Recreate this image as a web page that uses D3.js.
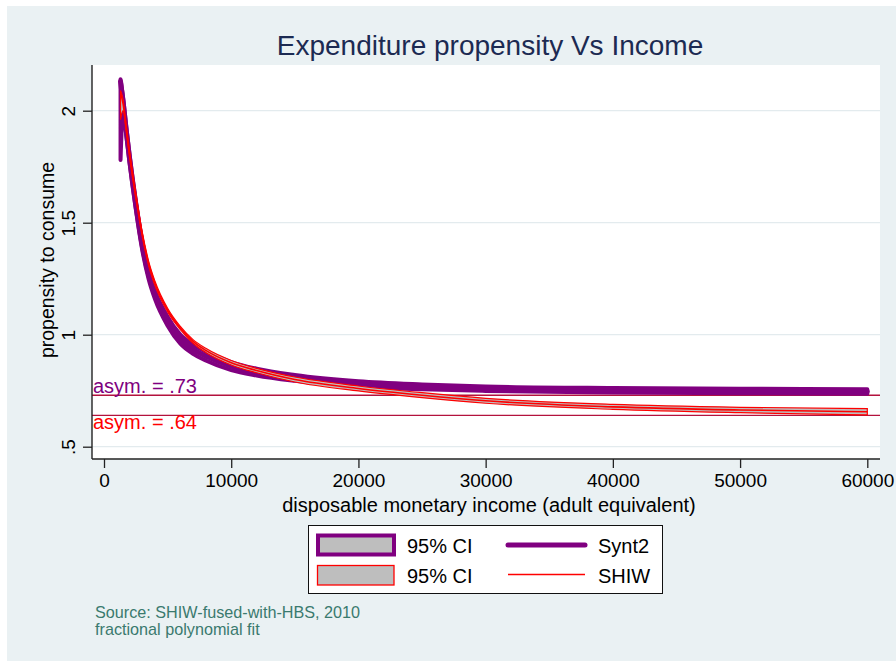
<!DOCTYPE html>
<html>
<head>
<meta charset="utf-8">
<script src="https://cdn.jsdelivr.net/npm/d3@7/dist/d3.min.js"></script>
<style>
  html, body { margin: 0; padding: 0; background: #ffffff; }
  svg { display: block; font-family: 'Liberation Sans', Arial, sans-serif; }
</style>
</head>
<body>
<svg id="chart" width="896" height="661"></svg>
<script>
// income grid the fitted curves were read at
const incomes = [1300, 1500, 1750, 2000, 2500, 3000, 3500, 4000, 5000, 6000, 7000, 8000, 10000, 12000, 15000, 20000, 25000, 30000, 40000, 50000, 60000];

// Synt2 fractional polynomial fit and its 95% CI
const synt2Fit = [2.13, 2.04, 1.91, 1.79, 1.58, 1.40, 1.27, 1.18, 1.06, 0.98, 0.935, 0.905, 0.86, 0.833, 0.807, 0.78, 0.767, 0.759, 0.752, 0.749, 0.746];
const synt2Hi  = [2.14, 2.06, 1.93, 1.81, 1.60, 1.42, 1.29, 1.20, 1.08, 1.00, 0.955, 0.925, 0.878, 0.848, 0.82, 0.792, 0.778, 0.769, 0.762, 0.759, 0.756];
const synt2Lo  = [1.78, 2.00, 1.89, 1.77, 1.56, 1.38, 1.25, 1.16, 1.04, 0.96, 0.915, 0.885, 0.842, 0.818, 0.794, 0.768, 0.756, 0.749, 0.742, 0.739, 0.736];

// SHIW fractional polynomial fit and its 95% CI
const shiwFit = [2.08, 2.03, 1.92, 1.81, 1.62, 1.45, 1.32, 1.23, 1.11, 1.03, 0.97, 0.93, 0.875, 0.84, 0.80, 0.76, 0.73, 0.705, 0.678, 0.664, 0.656];
const shiwHi  = [2.09, 2.05, 1.935, 1.825, 1.632, 1.46, 1.33, 1.24, 1.118, 1.037, 0.978, 0.939, 0.885, 0.85, 0.811, 0.771, 0.741, 0.716, 0.689, 0.676, 0.670];
const shiwLo  = [1.96, 2.00, 1.905, 1.795, 1.608, 1.44, 1.31, 1.22, 1.102, 1.023, 0.962, 0.921, 0.865, 0.83, 0.789, 0.749, 0.719, 0.694, 0.667, 0.652, 0.642];

// asymptotes
const asymValues = [0.73, 0.64];
const asymLabels = ['asym. = .73', 'asym. = .64'];

// axis ticks
const xTicks = [0, 10000, 20000, 30000, 40000, 50000, 60000];
const yTicks = [0.5, 1, 1.5, 2];
const yTickLabels = ['.5', '1', '1.5', '2'];

const PURPLE = '#800080';
const RED = '#ff0000';
const ASYM_COLOR = '#b3123d';
const CI_FILL = '#bebebe';
const GRID = '#e3ebee';
const BG = '#eaf1f3';
const FONT = "'Liberation Sans', Arial, sans-serif";

const svg = d3.select('#chart');

// graph region
svg.append('rect').attr('x', 7).attr('y', 6).attr('width', 889).attr('height', 655).attr('fill', BG);

// plot region
const plot = { left: 92, right: 880, top: 65, bottom: 459 };
svg.append('rect')
  .attr('x', plot.left).attr('y', plot.top)
  .attr('width', plot.right - plot.left).attr('height', plot.bottom - plot.top)
  .attr('fill', '#ffffff');

const x = d3.scaleLinear().domain([0, 60000]).range([104, 867.3]);
const y = d3.scaleLinear().domain([0.5, 2]).range([446.7, 110.7]);

// gridlines
svg.append('g')
  .selectAll('line')
  .data(yTicks)
  .enter()
  .append('line')
  .attr('x1', plot.left).attr('x2', plot.right)
  .attr('y1', d => y(d)).attr('y2', d => y(d))
  .attr('stroke', GRID).attr('stroke-width', 1.3);

// asymptote lines
svg.append('g')
  .selectAll('line')
  .data(asymValues)
  .enter()
  .append('line')
  .attr('x1', plot.left).attr('x2', plot.right)
  .attr('y1', d => y(d)).attr('y2', d => y(d))
  .attr('stroke', ASYM_COLOR).attr('stroke-width', 1.4);

const rows = (fit, lo, hi) => incomes.map((inc, i) => ({ inc, fit: fit[i], lo: lo[i], hi: hi[i] }));
const synt2 = rows(synt2Fit, synt2Lo, synt2Hi);
const shiw = rows(shiwFit, shiwLo, shiwHi);

const band = d3.area()
  .x(d => x(d.inc))
  .y0(d => y(d.lo))
  .y1(d => y(d.hi))
  .curve(d3.curveMonotoneX);

const fitLine = d3.line()
  .x(d => x(d.inc))
  .y(d => y(d.fit))
  .curve(d3.curveMonotoneX);

// Synt2 CI band + fit
svg.append('path').datum(synt2)
  .attr('d', band)
  .attr('fill', CI_FILL).attr('stroke', PURPLE).attr('stroke-width', 4)
  .attr('stroke-linejoin', 'round');
svg.append('path').datum(synt2)
  .attr('d', fitLine)
  .attr('fill', 'none').attr('stroke', PURPLE).attr('stroke-width', 5)
  .attr('stroke-linecap', 'round');

// SHIW CI band + fit
svg.append('path').datum(shiw)
  .attr('d', band)
  .attr('fill', CI_FILL).attr('stroke', RED).attr('stroke-width', 1.2);
svg.append('path').datum(shiw)
  .attr('d', fitLine)
  .attr('fill', 'none').attr('stroke', RED).attr('stroke-width', 1.6);

// asymptote labels
svg.append('text')
  .attr('x', 93).attr('y', 393)
  .attr('font-size', 20).attr('fill', PURPLE)
  .text(asymLabels[0]);
svg.append('text')
  .attr('x', 93).attr('y', 429)
  .attr('font-size', 20).attr('fill', RED)
  .text(asymLabels[1]);

// axes
const xAxis = d3.axisBottom(x).tickValues(xTicks).tickSize(9).tickPadding(6).tickFormat(d3.format('d'));
const gx = svg.append('g').attr('transform', `translate(0,${plot.bottom})`).call(xAxis);
gx.select('.domain').attr('d', `M${plot.left},0H${plot.right}`);

const yAxis = d3.axisLeft(y).tickValues(yTicks).tickSize(9).tickFormat((d, i) => yTickLabels[i]);
const gy = svg.append('g').attr('transform', `translate(${plot.left},0)`).call(yAxis);
gy.select('.domain').attr('d', `M0,${plot.top}V${plot.bottom}`);

[gx, gy].forEach(g => {
  g.selectAll('.domain').attr('stroke', '#222').attr('stroke-width', 1.4);
  g.selectAll('.tick line').attr('stroke', '#222').attr('stroke-width', 1.3);
  g.selectAll('text').attr('font-size', 19).attr('fill', '#000').attr('font-family', FONT);
});

// rotate y tick labels like stata does
gy.selectAll('.tick text')
  .attr('x', null).attr('dy', null)
  .attr('text-anchor', 'middle')
  .attr('transform', 'translate(-17,0) rotate(-90)');

// axis titles
svg.append('text')
  .attr('x', 489).attr('y', 512)
  .attr('text-anchor', 'middle').attr('font-size', 20)
  .text('disposable monetary income (adult equivalent)');
svg.append('text')
  .attr('transform', 'translate(54,260) rotate(-90)')
  .attr('text-anchor', 'middle').attr('font-size', 19.5)
  .text('propensity to consume');

// title
svg.append('text')
  .attr('x', 490).attr('y', 55)
  .attr('text-anchor', 'middle').attr('font-size', 28).attr('fill', '#1c2a52')
  .text('Expenditure propensity Vs Income');

// legend
const legend = svg.append('g');
legend.append('rect')
  .attr('x', 308.5).attr('y', 525.5).attr('width', 354).attr('height', 68)
  .attr('fill', '#ffffff').attr('stroke', '#111').attr('stroke-width', 1);
legend.append('rect')
  .attr('x', 318).attr('y', 535.5).attr('width', 76).attr('height', 19)
  .attr('fill', CI_FILL).attr('stroke', PURPLE).attr('stroke-width', 4);
legend.append('rect')
  .attr('x', 317.5).attr('y', 565.5).attr('width', 76.5).attr('height', 19.5)
  .attr('fill', CI_FILL).attr('stroke', RED).attr('stroke-width', 1.3);
legend.append('line')
  .attr('x1', 508).attr('x2', 585).attr('y1', 545).attr('y2', 545)
  .attr('stroke', PURPLE).attr('stroke-width', 5).attr('stroke-linecap', 'round');
legend.append('line')
  .attr('x1', 508).attr('x2', 585).attr('y1', 574.5).attr('y2', 574.5)
  .attr('stroke', RED).attr('stroke-width', 1.6);

const legendLabels = [
  { x: 407, y: 553, t: '95% CI' },
  { x: 598, y: 553, t: 'Synt2' },
  { x: 407, y: 583, t: '95% CI' },
  { x: 598, y: 583, t: 'SHIW' },
];
legend.selectAll('text.lbl')
  .data(legendLabels)
  .enter()
  .append('text')
  .attr('class', 'lbl')
  .attr('x', d => d.x).attr('y', d => d.y)
  .attr('font-size', 20)
  .text(d => d.t);

// note
svg.append('text')
  .attr('x', 95).attr('y', 618)
  .attr('font-size', 16.2).attr('fill', '#3a7a6e')
  .text('Source: SHIW-fused-with-HBS, 2010');
svg.append('text')
  .attr('x', 95).attr('y', 635)
  .attr('font-size', 16.2).attr('fill', '#3a7a6e')
  .text('fractional polynomial fit');
</script>
</body>
</html>
